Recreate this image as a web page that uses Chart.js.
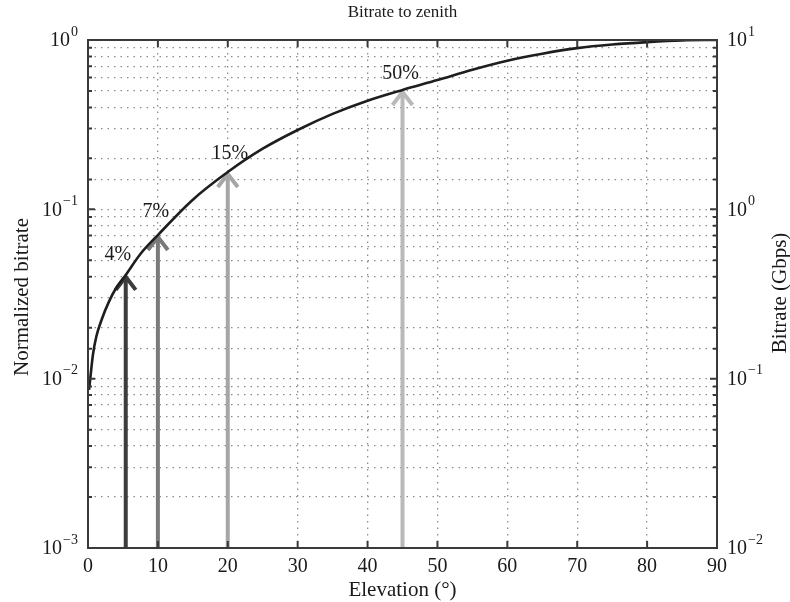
<!DOCTYPE html>
<html>
<head>
<meta charset="utf-8">
<script src="https://cdn.jsdelivr.net/npm/chart.js@4.4.1/dist/chart.umd.min.js"></script>
<style>
  html, body { margin: 0; padding: 0; background: #fff; }
  #wrap { width: 790px; height: 602px; }
</style>
</head>
<body>
<div id="wrap"><canvas id="chart" width="790" height="602"></canvas></div>
<script>
// curve
const elevation = [0.15, 0.3, 0.7, 1.2, 2, 3, 4, 5.4, 7.5, 10, 15, 20, 25, 30, 35, 40, 45, 50, 55, 60, 65, 70, 75, 80, 85, 90];
const normBitrate = [0.0086, 0.0098, 0.0138, 0.0178, 0.0226, 0.0285, 0.0342, 0.041, 0.0545, 0.0705, 0.114, 0.166, 0.228, 0.294, 0.366, 0.438, 0.507, 0.58, 0.668, 0.755, 0.83, 0.895, 0.94, 0.972, 0.995, 1.0];

// arrows
const arrowLabels = ['4%', '7%', '15%', '50%'];
const arrowElev = [5.4, 10, 20, 45];
const arrowTip = [0.041, 0.0705, 0.166, 0.507];
const arrowColors = ['#3c3c3c', '#7a7a7a', '#a6a6a6', '#b9b9b9'];

// axes
const xTicks = [0, 10, 20, 30, 40, 50, 60, 70, 80, 90];
const leftExp = [-3, -2, -1, 0];
const rightExp = [-2, -1, 0, 1];

const SERIF = '"Liberation Serif", "Times New Roman", serif';
const FRAME = '#3a3a3a';

function drawPow(ctx, x, y, exp, align) {
  const base = '10';
  const e = exp < 0 ? '\u2212' + (-exp) : String(exp);
  ctx.font = '20px ' + SERIF;
  const wb = ctx.measureText(base).width;
  ctx.font = '14px ' + SERIF;
  const we = ctx.measureText(e).width;
  let x0 = align === 'right' ? x - wb - we - 1 : x;
  ctx.textAlign = 'left';
  ctx.textBaseline = 'middle';
  ctx.font = '20px ' + SERIF;
  ctx.fillText(base, x0, y + 1);
  ctx.font = '14px ' + SERIF;
  ctx.fillText(e, x0 + wb + 1, y - 8);
}

const decor = {
  id: 'decor',
  beforeDatasetsDraw(chart) {
    const ctx = chart.ctx;
    const xs = chart.scales.x, ys = chart.scales.y;
    ctx.save();
    for (let i = 0; i < arrowElev.length; i++) {
      const px = xs.getPixelForValue(arrowElev[i]);
      const pt = ys.getPixelForValue(arrowTip[i]);
      const pb = ys.getPixelForValue(0.001);
      ctx.strokeStyle = arrowColors[i];
      ctx.lineWidth = 4;
      ctx.lineCap = 'butt';
      ctx.beginPath();
      ctx.moveTo(px, pb);
      ctx.lineTo(px, pt + 2);
      ctx.stroke();
      ctx.lineJoin = 'miter';
      ctx.beginPath();
      ctx.moveTo(px - 10, pt + 15);
      ctx.lineTo(px, pt + 2);
      ctx.lineTo(px + 10, pt + 15);
      ctx.stroke();
    }
    ctx.restore();
  },
  afterDraw(chart) {
    const ctx = chart.ctx;
    const a = chart.chartArea;
    const xs = chart.scales.x, ys = chart.scales.y, yr = chart.scales.y2;
    ctx.save();

    // inward ticks
    ctx.strokeStyle = FRAME;
    ctx.lineWidth = 2;
    ctx.beginPath();
    xTicks.forEach(v => {
      const px = xs.getPixelForValue(v);
      ctx.moveTo(px, a.bottom); ctx.lineTo(px, a.bottom - 7);
      ctx.moveTo(px, a.top); ctx.lineTo(px, a.top + 7);
    });
    ys.ticks.forEach(t => {
      const py = ys.getPixelForValue(t.value);
      const len = t.major ? 7 : 4;
      ctx.moveTo(a.left, py); ctx.lineTo(a.left + len, py);
    });
    yr.ticks.forEach(t => {
      const py = yr.getPixelForValue(t.value);
      const len = t.major ? 7 : 4;
      ctx.moveTo(a.right, py); ctx.lineTo(a.right - len, py);
    });
    ctx.stroke();

    // frame
    ctx.lineWidth = 2;
    ctx.strokeRect(a.left, a.top, a.right - a.left, a.bottom - a.top);

    // arrow labels
    ctx.fillStyle = '#1a1a1a';
    ctx.font = '20px ' + SERIF;
    ctx.textAlign = 'center';
    ctx.textBaseline = 'middle';
    const offs = [[-8, -20], [-2, -23], [2, -18], [-2, -16]];
    for (let i = 0; i < arrowLabels.length; i++) {
      const px = xs.getPixelForValue(arrowElev[i]);
      const pt = ys.getPixelForValue(arrowTip[i]);
      ctx.fillText(arrowLabels[i], px + offs[i][0], pt + offs[i][1]);
    }

    // power-of-ten tick labels
    leftExp.forEach(e => drawPow(ctx, a.left - 10, ys.getPixelForValue(Math.pow(10, e)), e, 'right'));
    rightExp.forEach(e => drawPow(ctx, a.right + 10, yr.getPixelForValue(Math.pow(10, e)), e, 'left'));

    // titles
    ctx.font = '17px ' + SERIF;
    ctx.textAlign = 'center';
    ctx.textBaseline = 'middle';
    ctx.fillText('Bitrate to zenith', (a.left + a.right) / 2, 13);
    ctx.font = '21px ' + SERIF;
    ctx.fillText('Elevation (\u00b0)', (a.left + a.right) / 2, 590);
    ctx.save();
    ctx.translate(22, 297);
    ctx.rotate(-Math.PI / 2);
    ctx.fillText('Normalized bitrate', 0, 0);
    ctx.restore();
    ctx.save();
    ctx.translate(780, 293);
    ctx.rotate(-Math.PI / 2);
    ctx.fillText('Bitrate (Gbps)', 0, 0);
    ctx.restore();

    ctx.restore();
  }
};

const curve = elevation.map((e, i) => ({ x: e, y: normBitrate[i] }));

const config = {
  type: 'line',
  data: {
    datasets: [
      {
        label: 'Normalized bitrate',
        data: curve,
        borderColor: '#1e1e1e',
        borderWidth: 2.6,
        pointRadius: 0,
        cubicInterpolationMode: 'monotone',
        fill: false
      }
    ]
  },
  options: {
    responsive: false,
    animation: false,
    layout: { padding: { top: 40 } },
    plugins: {
      legend: { display: false },
      tooltip: { enabled: false }
    },
    scales: {
      x: {
        type: 'linear',
        min: 0,
        max: 90,
        afterBuildTicks: s => { s.ticks = xTicks.map(v => ({ value: v })); },
        afterFit: s => { s.height = 54; },
        ticks: {
          padding: 7,
          color: '#1a1a1a',
          font: { family: SERIF, size: 20 }
        },
        grid: { color: '#8c8c8c', lineWidth: 1.3, drawTicks: false },
        border: { display: false, dash: [1.5, 5] }
      },
      y: {
        type: 'logarithmic',
        position: 'left',
        min: 0.001,
        max: 1,
        afterFit: s => { s.width = 88; },
        ticks: { display: false, autoSkip: false },
        grid: { color: '#8c8c8c', lineWidth: 1.3, drawTicks: false },
        border: { display: false, dash: [1.5, 5] }
      },
      y2: {
        type: 'logarithmic',
        position: 'right',
        min: 0.01,
        max: 10,
        afterFit: s => { s.width = 73; },
        ticks: { display: false, autoSkip: false },
        grid: { drawOnChartArea: false, drawTicks: false },
        border: { display: false }
      }
    }
  },
  plugins: [decor]
};

new Chart(document.getElementById('chart').getContext('2d'), config);
</script>
</body>
</html>
